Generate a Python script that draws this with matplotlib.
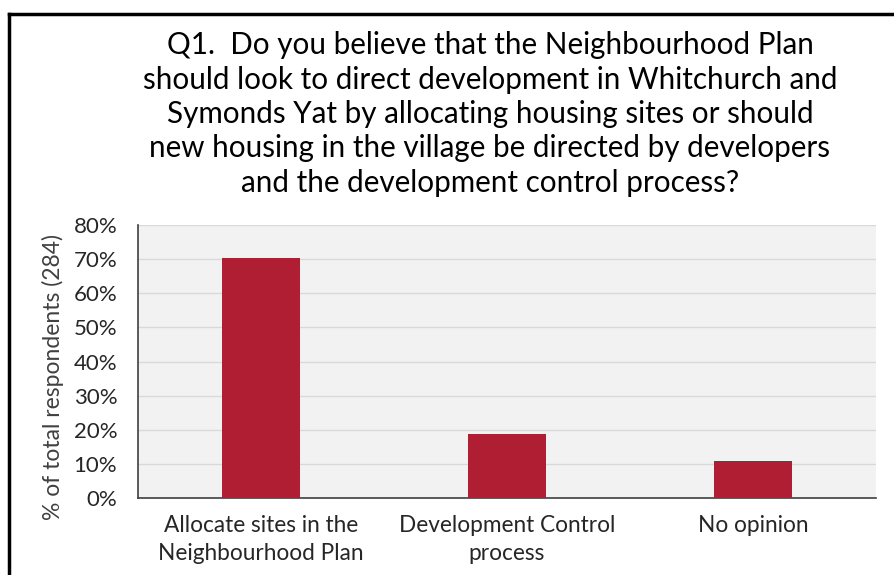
import matplotlib
matplotlib.use("Agg")
import matplotlib.pyplot as plt
from matplotlib.ticker import PercentFormatter
from matplotlib.lines import Line2D

categories = ["Allocate sites in the\nNeighbourhood Plan", "Development Control\nprocess", "No opinion"]
values = [70.4, 18.7, 10.9]
yticks = [0, 10, 20, 30, 40, 50, 60, 70, 80]
title = ("Q1.  Do you believe that the Neighbourhood Plan\n"
         "should look to direct development in Whitchurch and\n"
         "Symonds Yat by allocating housing sites or should\n"
         "new housing in the village be directed by developers\n"
         "and the development control process?")

plt.rcParams['font.family'] = ['Lato', 'DejaVu Sans']

W, H = 894, 575
fig = plt.figure(figsize=(W/100, H/100), dpi=100)
fig.patch.set_facecolor('white')

# frame border (left and top)
fig.add_artist(Line2D([9/W, 9/W], [0, 1 - 14/H], color='black', lw=2.5, transform=fig.transFigure))
fig.add_artist(Line2D([9/W, 1], [1 - 14/H, 1 - 14/H], color='black', lw=2.5, transform=fig.transFigure))

left, right, top, bottom = 138, 876, 225, 498
ax = fig.add_axes([left/W, 1 - bottom/H, (right-left)/W, (bottom-top)/H])
ax.set_facecolor('#F2F2F2')
x = list(range(len(categories)))
ax.bar(x, values, width=0.315, color='#B01E34', zorder=3)
ax.set_xlim(-0.5, len(categories) - 0.5)
ax.set_ylim(0, 80)
ax.set_yticks(yticks)
ax.yaxis.set_major_formatter(PercentFormatter(decimals=0))
ax.grid(axis='y', color='#D9D9D9', lw=1, zorder=0)
ax.set_xticks(x)
ax.set_xticklabels(categories, fontsize=16.3, color='#262626', linespacing=1.4)
ax.tick_params(axis='y', labelsize=16, labelcolor='#262626', length=0, pad=15)
ax.tick_params(axis='x', length=0, pad=12.5)
for s in ['top', 'right']:
    ax.spines[s].set_visible(False)
ax.spines['left'].set_color('#404040')
ax.spines['bottom'].set_color('#404040')
ax.spines['left'].set_linewidth(1.2)
ax.spines['bottom'].set_linewidth(1.2)
ax.set_ylabel('% of total respondents (284)', fontsize=16.5, color='#404040', labelpad=7)
ax.yaxis.label.set_y(0.443)

fig.text(490/W, 1 - 114/H, title, ha='center', va='center', fontsize=21.3,
         color='black', linespacing=1.28)

fig.savefig('out.png', dpi=100)
